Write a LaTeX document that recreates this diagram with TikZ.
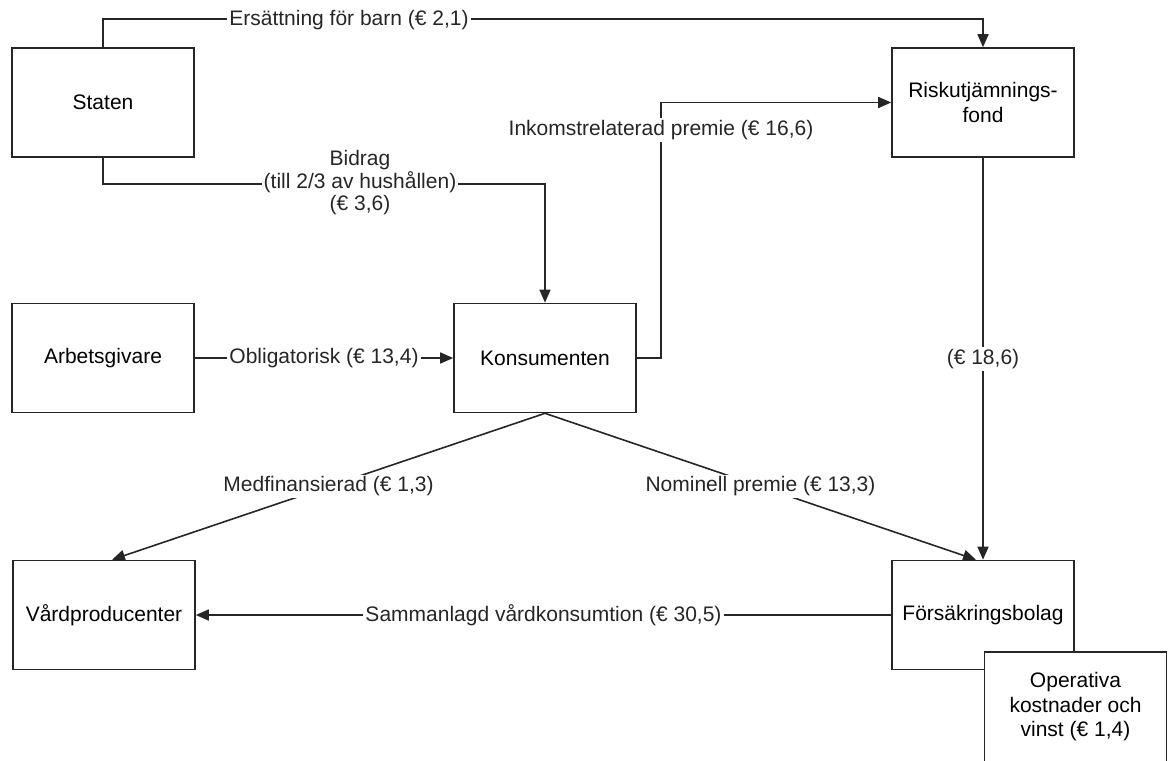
\documentclass[tikz,border=0pt]{standalone}
\usepackage{fontspec}
\setmainfont{Liberation Sans}
\usetikzlibrary{arrows.meta}

\begin{document}
\begin{tikzpicture}[x=1pt,y=-1pt,
  font=\fontsize{21}{24.5}\selectfont,
  box/.style={draw=black!85,fill=white,line width=1.6pt,align=center,
    minimum width=182pt,minimum height=109pt,inner sep=0pt},
  lbl/.style={fill=white,inner sep=2pt,align=center,text=black!85},
  flow/.style={draw=black!85,line width=1.6pt,-{Triangle[length=13pt,width=11pt]}}]
  \useasboundingbox (0,0) rectangle (1169,760);
  \clip (0,0) rectangle (1169,760);
  % boxes
  \node[box] (staten) at (103,102.5) {Staten};
  \node[box] (fond) at (983,102.5) {Riskutjämnings-\\fond};
  \node[box] (arbets) at (103,358) {Arbetsgivare};
  \node[box] (konsument) at (545,358) {Konsumenten};
  \node[box] (vard) at (104,615) {Vårdproducenter};
  \node[box] (forsakr) at (983,615) {Försäkringsbolag};
  % flows
  \draw[flow] (staten.north) -- ++(0,-28) -| (fond.north);
  \node[lbl] (ersattning) at (349,20) {Ersättning för barn (€ 2,1)};
  \draw[flow] (staten.south) -- ++(0,26) -| (konsument.north);
  \node[lbl] (bidrag) at (360,183) {Bidrag\\[-2pt](till 2/3 av hushållen)\\[-2pt](€ 3,6)};
  \draw[flow] (arbets.east) -- node[lbl] {Obligatorisk (€ 13,4)} (konsument.west);
  \draw[flow] (konsument.east) -- ++(24,0) |- (fond.west);
  \node[lbl] (inkomst) at (661,130) {Inkomstrelaterad premie (€ 16,6)};
  \draw[flow] (fond.south) -- node[lbl] {(€ 18,6)} (forsakr.north);
  \draw[flow] (konsument.south) -- node[lbl] {Medfinansierad (€ 1,3)}
    ([xshift=8pt]vard.north);
  \draw[flow] (konsument.south) -- node[lbl] {Nominell premie (€ 13,3)}
    ([xshift=-7pt]forsakr.north);
  \draw[flow] (forsakr.west) -- node[lbl] {Sammanlagd vårdkonsumtion (€ 30,5)}
    (vard.east);
  \node[box,minimum height=110pt] (operativa) at (1075.5,707)
    {Operativa\\kostnader och\\vinst (€ 1,4)};
\end{tikzpicture}
\end{document}
